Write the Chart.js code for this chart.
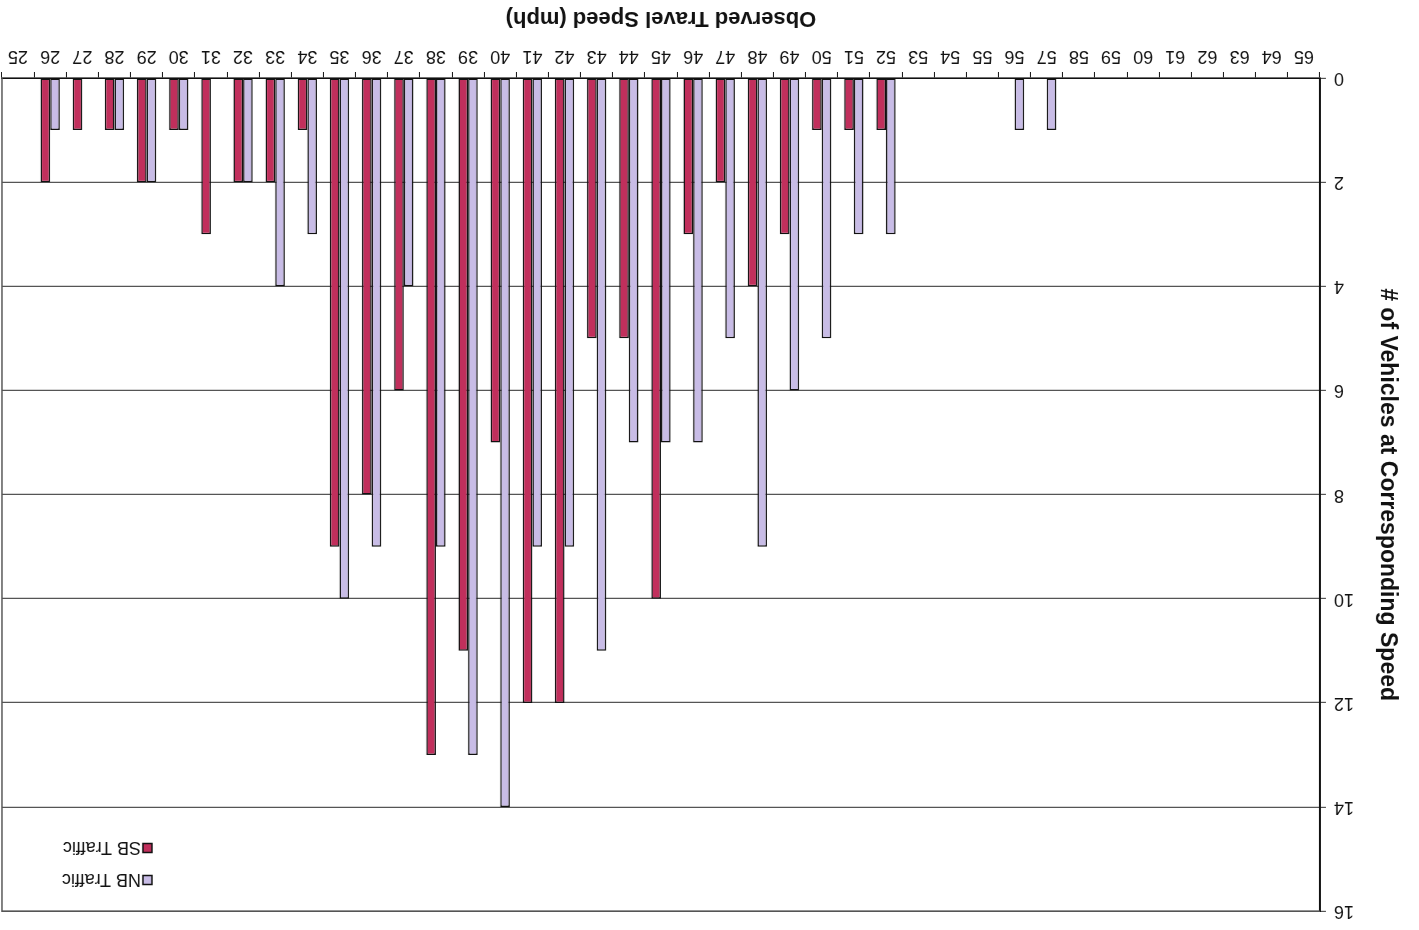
<!DOCTYPE html>
<html>
<head>
<meta charset="utf-8">
<script src="https://cdn.jsdelivr.net/npm/chart.js@4/dist/chart.umd.min.js"></script>
<style>
  html, body { margin: 0; padding: 0; background: #ffffff; }
  #wrap { width: 1419px; height: 930px; transform: rotate(180deg); transform-origin: 50% 50%; }
  canvas { display: block; }
</style>
</head>
<body>
<div id="wrap"><canvas id="speedChart" width="1419" height="930"></canvas></div>
<script>
// Observed speeds (mph)
const speeds = ['25','26','27','28','29','30','31','32','33','34','35','36','37','38','39','40','41','42','43','44','45',
                '46','47','48','49','50','51','52','53','54','55','56','57','58','59','60','61','62','63','64','65'];

// Vehicle counts per speed, northbound
const nbTraffic = [0,1,0,1,2,1,0,2,4,3,10,9,4,9,13,14,9,9,11,7,7,
                   7,5,9,6,5,3,3,0,0,0,1,1,0,0,0,0,0,0,0,0];

// Vehicle counts per speed, southbound
const sbTraffic = [0,2,1,1,2,1,3,2,2,1,9,8,6,13,11,7,12,12,5,5,10,
                   3,2,4,3,1,1,1,0,0,0,0,0,0,0,0,0,0,0,0,0];

const countTicks = [0,2,4,6,8,10,12,14,16];

const FONT = "'Liberation Sans', Arial, sans-serif";

// Frame around the plot area plus a stacked legend in its upper-right corner
const frameAndLegend = {
  id: 'frameAndLegend',
  afterDraw(chart) {
    const {ctx, chartArea: a} = chart;
    ctx.save();
    ctx.strokeStyle = '#555555';
    ctx.lineWidth = 1.5;
    ctx.beginPath();
    ctx.moveTo(a.left, a.top);
    ctx.lineTo(a.right, a.top);
    ctx.lineTo(a.right, a.bottom);
    ctx.stroke();

    const x = 1267, y0 = 50, gap = 32, box = 9;
    ctx.font = '18px ' + FONT;
    ctx.textBaseline = 'middle';
    ctx.textAlign = 'left';
    chart.data.datasets.forEach((ds, i) => {
      const y = y0 + i * gap;
      ctx.fillStyle = ds.backgroundColor;
      ctx.fillRect(x, y - box / 2, box, box);
      ctx.strokeStyle = '#111111';
      ctx.lineWidth = 1.5;
      ctx.strokeRect(x, y - box / 2, box, box);
      ctx.fillStyle = '#111111';
      ctx.fillText(ds.label, x + box + 2, y + 1);
    });
    ctx.restore();
  }
};

new Chart(document.getElementById('speedChart'), {
  type: 'bar',
  data: {
    labels: speeds,
    datasets: [
      {
        label: 'NB Traffic',
        data: nbTraffic,
        backgroundColor: '#c8bce6',
        borderColor: '#111111',
        borderWidth: 1.5,
        borderSkipped: false
      },
      {
        label: 'SB Traffic',
        data: sbTraffic,
        backgroundColor: '#c12f5c',
        borderColor: '#111111',
        borderWidth: 1.5,
        borderSkipped: false
      }
    ]
  },
  options: {
    responsive: false,
    animation: false,
    devicePixelRatio: 1,
    layout: { padding: { left: 0, right: 2, top: 14, bottom: 0 } },
    datasets: { bar: { categoryPercentage: 0.6, barPercentage: 1.0 } },
    plugins: {
      legend: { display: false },
      tooltip: { enabled: false }
    },
    scales: {
      x: {
        reverse: true,
        grid: {
          offset: true,
          drawOnChartArea: false,
          drawTicks: true,
          tickLength: 6,
          color: '#111111',
          lineWidth: 1
        },
        border: { display: true, color: '#111111', width: 1.5 },
        ticks: {
          color: '#111111',
          font: { family: FONT, size: 18 },
          padding: 5,
          maxRotation: 0,
          autoSkip: false
        },
        title: {
          display: true,
          text: 'Observed Travel Speed (mph)',
          color: '#111111',
          font: { family: FONT, size: 22, weight: 'bold' },
          padding: { top: 0, bottom: 5 }
        },
        afterFit(scale) { scale.height = 78; }
      },
      y: {
        min: 0,
        max: 16,
        afterBuildTicks(scale) { scale.ticks = countTicks.map(v => ({ value: v })); },
        grid: {
          drawOnChartArea: true,
          drawTicks: true,
          tickLength: 6,
          color: '#555555',
          lineWidth: 1.2
        },
        border: { display: true, color: '#111111', width: 2 },
        ticks: {
          color: '#111111',
          font: { family: FONT, size: 18 },
          padding: 8
        },
        title: {
          display: true,
          text: '# of Vehicles at Corresponding Speed',
          color: '#111111',
          font: { family: FONT, size: 23, weight: 'bold' },
          padding: { top: 18, bottom: 0 }
        },
        afterFit(scale) { scale.width = 99; }
      }
    }
  },
  plugins: [frameAndLegend]
});
</script>
</body>
</html>
